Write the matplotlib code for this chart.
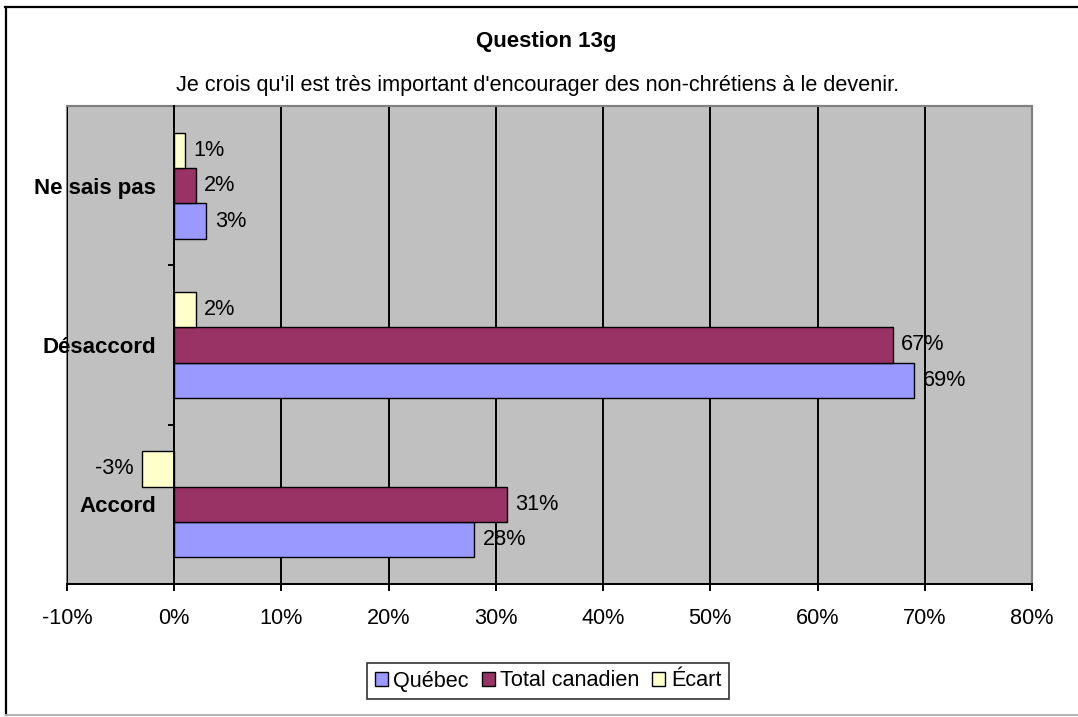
import numpy as np
import matplotlib
matplotlib.use('Agg')
import matplotlib.pyplot as plt
from matplotlib.lines import Line2D

plt.rcParams['font.family'] = ['Liberation Sans', 'DejaVu Sans']

# Survey answers (percent) per response category, bottom to top
categories = ['Accord', 'Désaccord', 'Ne sais pas']
quebec = [28, 69, 3]
total_canadien = [31, 67, 2]
ecart = [-3, 2, 1]

series_names = ['Québec', 'Total canadien', 'Écart']
series_colors = ['#9999FF', '#993366', '#FFFFCC']

xticks = [-10, 0, 10, 20, 30, 40, 50, 60, 70, 80]
xtick_labels = ['-10%', '0%', '10%', '20%', '30%', '40%', '50%', '60%', '70%', '80%']

title = 'Question 13g'
subtitle = "Je crois qu'il est très important d'encourager des non-chrétiens à le devenir."

FS = 15.6
FS_BOLD = 16

W, H = 1078, 717
fig = plt.figure(figsize=(W / 100, H / 100), dpi=100)
fig.patch.set_facecolor('white')

# plot area in pixel bounds
left, right, top, bottom = 67, 1032, 106, 584
ax = fig.add_axes([left / W, (H - bottom) / H, (right - left) / W, (bottom - top) / H])
ax.set_facecolor('#C0C0C0')
ax.patch.set_edgecolor('#808080')
ax.patch.set_linewidth(1.5)

y = np.arange(len(categories))
h = 1 / 4.5
offsets = [-h, 0, h]
for vals, off, name, col in zip([quebec, total_canadien, ecart], offsets, series_names, series_colors):
    b = ax.barh(y + off, vals, height=h, color=col, edgecolor='black', linewidth=1.0,
                label=name, zorder=3)
    ax.bar_label(b, labels=[f'{v}%' for v in vals], padding=6, fontsize=FS, zorder=4)

ax.set_xlim(-10, 80)
ax.set_ylim(-0.5, len(categories) - 0.5)

# value axis with vertical gridlines
ax.set_xticks(xticks)
ax.set_xticklabels(xtick_labels, fontsize=FS)
ax.xaxis.grid(True, color='black', linewidth=1.4)
ax.set_axisbelow(True)
ax.tick_params(axis='x', direction='out', length=5, width=1.4, pad=12)

# category axis crosses at 0
ax.spines['left'].set_position(('data', 0))
ax.spines['left'].set_color('black')
ax.spines['left'].set_linewidth(1.4)
ax.spines['left'].set_zorder(5)
ax.spines['bottom'].set_color('black')
ax.spines['bottom'].set_linewidth(1.4)
for s in ['top', 'right']:
    ax.spines[s].set_color('#808080')
    ax.spines[s].set_linewidth(1.5)

ax.set_yticks(y)
ax.set_yticklabels(categories, fontsize=FS_BOLD, fontweight='bold')
ax.set_yticks(np.arange(len(categories) + 1) - 0.5, minor=True)
ax.tick_params(axis='y', which='major', length=0, pad=13)
ax.tick_params(axis='y', which='minor', direction='out', length=4.3, width=1.4)

fig.text(546 / W, (H - 42) / H, title, ha='center', va='center', fontsize=FS_BOLD, fontweight='bold')
fig.text(538 / W, (H - 86) / H, subtitle, ha='center', va='center', fontsize=FS)

handles = [plt.Rectangle((0, 0), 1, 1, facecolor=c, edgecolor='black', linewidth=1.0)
           for c in series_colors]
leg = fig.legend(handles, series_names, loc='center', bbox_to_anchor=(548 / W, (H - 681) / H),
                 ncol=3, fontsize=FS, frameon=True, fancybox=False, edgecolor='black',
                 handlelength=0.6, handleheight=0.6, handletextpad=0.25, columnspacing=0.6,
                 borderpad=0.35, borderaxespad=0)
leg.get_frame().set_linewidth(1.2)

# chart frame
def px_line(x0, y0, x1, y1, color, lw):
    fig.add_artist(Line2D([x0 / W, x1 / W], [(H - y0) / H, (H - y1) / H],
                          transform=fig.transFigure, color=color, linewidth=lw))

px_line(5, 7, W, 7, 'black', 1.6)
px_line(6, 7, 6, 715, 'black', 1.6)
px_line(6, 715, W, 715, '#B0B0B0', 1.4)

fig.savefig('out.png', dpi=100)
